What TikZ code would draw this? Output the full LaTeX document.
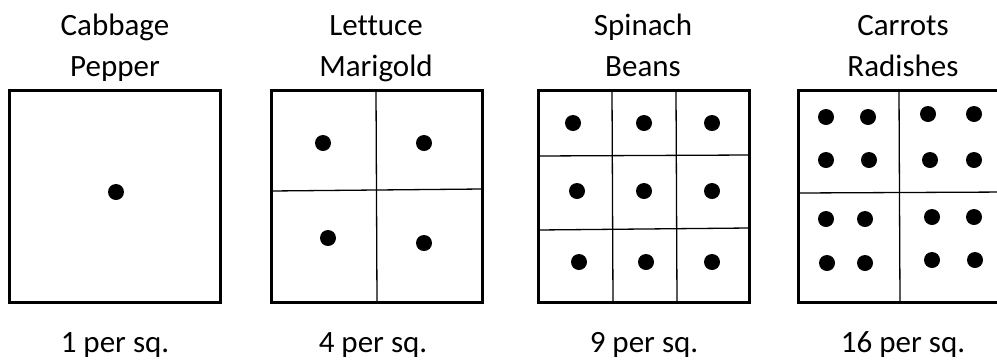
\documentclass[tikz,border=0pt]{standalone}
\usepackage{fontspec}
\setmainfont{Carlito}[Ligatures=NoCommon]
\begin{document}
\begin{tikzpicture}[x=1pt,y=-1pt,
  lbl/.style={anchor=base,inner sep=0pt,font=\fontsize{31}{36}\selectfont},
  outer/.style={line width=3pt},
  inner/.style={line width=1.3pt},
  dot/.style={fill=black}]
\useasboundingbox (0,0) rectangle (997,360);
\begin{scope}
\clip (0,0) rectangle (997,360);
% Square 1
\node[lbl] (t1a) at (115,35) {Cabbage};
\node[lbl] (t1b) at (115,76) {Pepper};
\draw[outer] (9,90) rectangle (220,302);
\fill[dot] (116,192) circle (8);
\node[lbl] (b1) at (115,352) {1 per sq.};
% Square 2
\node[lbl] (t2a) at (376,35) {Lettuce};
\node[lbl] (t2b) at (376,76) {Marigold};
\draw[inner] (376,90) -- (377,302);
\draw[inner] (271,191) -- (482,189);
\draw[outer] (271,90) rectangle (482,302);
\fill[dot] (323,143) circle (8);
\fill[dot] (424,143) circle (8);
\fill[dot] (328,238) circle (8);
\fill[dot] (424,243) circle (8);
\node[lbl] (b2) at (373,352) {4 per sq.};
% Square 3
\node[lbl] (t3a) at (643,35) {Spinach};
\node[lbl] (t3b) at (643,76) {Beans};
\draw[inner] (612,90) -- (613,302);
\draw[inner] (676,90) -- (677,302);
\draw[inner] (538,156) -- (749,155);
\draw[inner] (538,230) -- (749,228);
\draw[outer] (538,90) rectangle (749,302);
\foreach \x/\y in {573/123,644/123,712/123,577/191,644/191,712/191,579/262,646/262,712/262}
  \fill[dot] (\x,\y) circle (8);
\node[lbl] (b3) at (644,352) {9 per sq.};
% Square 4
\node[lbl] (t4a) at (903,35) {Carrots};
\node[lbl] (t4b) at (903,76) {Radishes};
\draw[inner] (899,90) -- (900,302);
\draw[inner] (798,193) -- (1009,192);
\draw[outer] (798,90) rectangle (1009,302);
\foreach \x/\y in {826/117,868/117,928/114,974/114,826/160,869/160,930/160,974/160,
                   826/219,865/219,932/217,974/217,827/263,865/263,932/260,975/260}
  \fill[dot] (\x,\y) circle (8);
\node[lbl] (b4) at (903,352) {16 per sq.};
\end{scope}
\end{tikzpicture}
\end{document}
